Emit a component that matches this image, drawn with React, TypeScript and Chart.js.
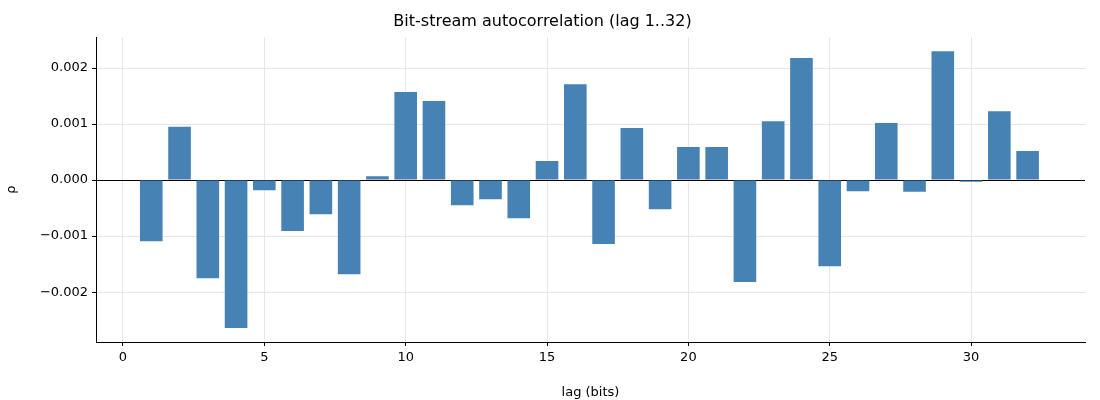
import React, { useEffect, useRef } from "react";
import { Chart, registerables } from "chart.js";
Chart.register(...registerables);

const lags = Array.from({ length: 32 }, (_, i) => i + 1);
const rho = [
  -0.00109, 0.00095, -0.00175, -0.00264, -0.00018, -0.00091, -0.00061, -0.00168,
  0.00007, 0.00157, 0.00141, -0.00045, -0.00034, -0.00068, 0.00034, 0.00171,
  -0.00114, 0.00093, -0.00052, 0.00059, 0.00059, -0.00182, 0.00105, 0.00218,
  -0.00154, -0.0002, 0.00102, -0.00021, 0.0023, -0.00003, 0.00123, 0.00052,
];
const xTicks = [0, 5, 10, 15, 20, 25, 30];
const yTicks = [-0.002, -0.001, 0, 0.001, 0.002];

export default function App() {
  const ref = useRef<HTMLCanvasElement>(null);
  useEffect(() => {
    document.body.style.margin = "0";
    const font = { family: "DejaVu Sans", size: 13 };
    const chart = new Chart(ref.current!, {
      type: "bar",
      data: {
        datasets: [{
          data: lags.map((l, i) => ({ x: l, y: rho[i] })),
          backgroundColor: "#4682b4",
          barPercentage: 0.8,
          categoryPercentage: 1,
        }],
      },
      options: {
        animation: false,
        responsive: false,
        layout: { padding: { right: 15, top: 0 } },
        plugins: {
          legend: { display: false },
          tooltip: { enabled: false },
          title: {
            display: true,
            text: "Bit-stream autocorrelation (lag 1..32)",
            color: "#000",
            font: { family: "DejaVu Sans", size: 16, weight: "normal" },
            padding: { top: 12, bottom: 6 },
          },
        },
        scales: {
          x: {
            type: "linear",
            offset: false,
            min: -0.955,
            max: 34.03,
            afterBuildTicks: (s: any) => { s.ticks = xTicks.map((v) => ({ value: v })); },
            afterFit: (s: any) => { s.height = 58; },
            ticks: { color: "#000", font, padding: 4, callback: (v: any) => String(v) },
            grid: { offset: false, color: "#e6e6e6", tickColor: "#000", tickLength: 4 },
            border: { display: true, color: "#000" },
            title: { display: true, text: "lag (bits)", color: "#000", font, padding: { top: 0, bottom: 0 } },
          },
          y: {
            min: -0.00289,
            max: 0.00255,
            afterBuildTicks: (s: any) => { s.ticks = yTicks.map((v) => ({ value: v })); },
            afterFit: (s: any) => { s.width = 96; },
            ticks: {
              color: "#000",
              font,
              padding: 4,
              callback: (v: any) => (Number(v) < 0 ? "\u2212" : "") + Math.abs(Number(v)).toFixed(3),
            },
            grid: {
              color: (c: any) => (c.tick && c.tick.value === 0 ? "#000" : "#e6e6e6"),
              tickColor: "#000",
              tickLength: 4,
            },
            border: { display: true, color: "#000" },
            title: { display: true, text: "ρ", color: "#000", font },
          },
        },
      },
    });
    return () => chart.destroy();
  }, []);
  return <canvas ref={ref} width={1100} height={400} />;
}
